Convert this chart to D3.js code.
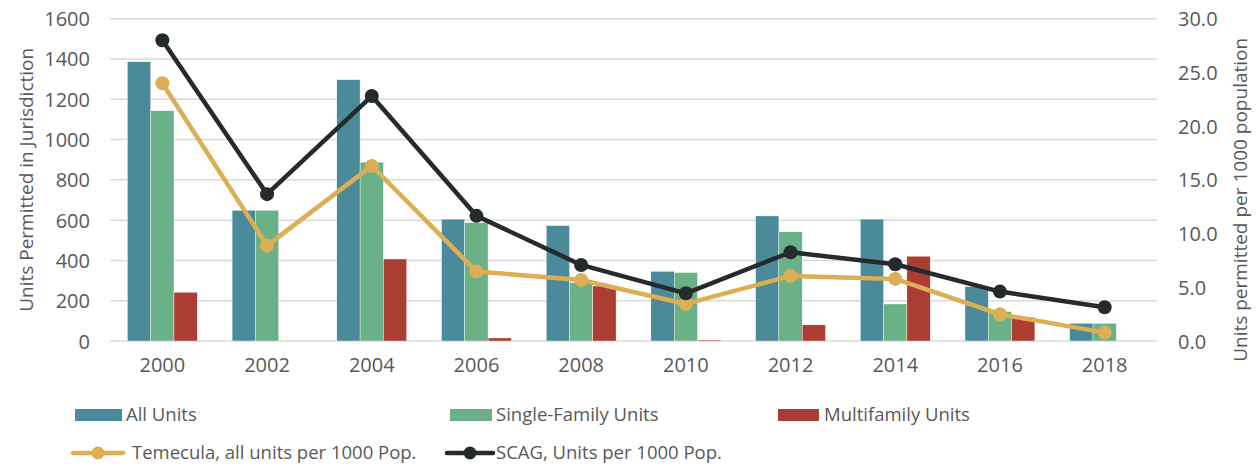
<!DOCTYPE html>
<html><head><meta charset="utf-8">
<script src="https://cdn.jsdelivr.net/npm/d3@7"></script>
<style>body{margin:0;background:#fff;} text{font-family:"Open Sans","Liberation Sans",Arial,sans-serif;fill:#595959;}</style>
</head><body><svg id="c" width="1260" height="467"></svg>
<script>
const years = ["2000","2002","2004","2006","2008","2010","2012","2014","2016","2018"];
const allUnits = [1386, 649, 1297, 605, 573, 346, 621, 605, 270, 88];
const singleFamily = [1143, 649, 888, 588, 290, 340, 542, 184, 146, 88];
const multifamily = [242, 0, 407, 15, 273, 5, 80, 421, 118, 0];
const temecula = [24.0, 8.88, 16.3, 6.46, 5.68, 3.45, 6.06, 5.78, 2.49, 0.78];
const scag = [28.0, 13.67, 22.8, 11.65, 7.08, 4.44, 8.26, 7.14, 4.6, 3.14];
const leftTicks = [0,200,400,600,800,1000,1200,1400,1600];
const rightTicks = [0,5,10,15,20,25,30];

const svg = d3.select("#c");
const L = 110, R = 1157, T = 18.7, B = 341;
const x = d3.scaleBand().domain(years).range([L, R]).paddingInner(0).paddingOuter(0);
const yL = d3.scaleLinear().domain([0,1600]).range([B, T]);
const yR = d3.scaleLinear().domain([0,30]).range([B, T]);
const colors = {all:"#4a8a9a", sf:"#6bb187", mf:"#ab3d32", tem:"#dcae55", scag:"#252a2d"};
const FS = "20px";

// grid
svg.append("g").selectAll("line").data(leftTicks).join("line")
  .attr("x1", L).attr("x2", R).attr("y1", d=>yL(d)).attr("y2", d=>yL(d))
  .attr("stroke", "#d9d9d9").attr("stroke-width", 1.5);

// left axis
const gl = svg.append("g").attr("transform", `translate(${L-20},0)`)
  .call(d3.axisLeft(yL).tickValues(leftTicks).tickFormat(d3.format("d")).tickSize(0).tickPadding(0));
gl.select(".domain").remove();
gl.selectAll("text").style("font-size",FS).attr("fill","#595959").attr("dy","0.35em");

// right axis
const gr = svg.append("g").attr("transform", `translate(${R+21},0)`)
  .call(d3.axisRight(yR).tickValues(rightTicks).tickFormat(d3.format(".1f")).tickSize(0).tickPadding(0));
gr.select(".domain").remove();
gr.selectAll("text").style("font-size",FS).attr("fill","#595959").attr("dy","0.35em");

// bottom axis
const gb = svg.append("g").attr("transform", `translate(0,${B})`)
  .call(d3.axisBottom(x).tickSize(0).tickPadding(17));
gb.select(".domain").remove();
gb.selectAll("text").style("font-size",FS).attr("fill","#595959");

// axis titles
svg.append("text").attr("transform", `translate(26,${(T+B)/2}) rotate(-90)`)
  .attr("text-anchor","middle").attr("dy","0.35em").style("font-size","19px").text("Units Permitted in Jurisdiction");
svg.append("text").attr("transform", `translate(1240,${(T+B)/2 + 20}) rotate(-90)`)
  .attr("text-anchor","middle").attr("dy","0.35em").style("font-size","19px").text("Units permitted per 1000 population");

// bars
const bw = 23.3;
const series = [{k:"all", v:allUnits},{k:"sf", v:singleFamily},{k:"mf", v:multifamily}];
series.forEach((s, i) => {
  svg.append("g").selectAll("rect").data(years).join("rect")
    .attr("x", (d) => x(d) + x.bandwidth()/2 - 1.5*bw + i*bw)
    .attr("width", bw)
    .attr("y", (d, j) => yL(s.v[j]))
    .attr("height", (d, j) => B - yL(s.v[j]))
    .attr("fill", colors[s.k]).attr("stroke","#ffffff").attr("stroke-width",0.4);
});

// lines
function drawLine(vals, col) {
  const line = d3.line().x((d,i)=>x(years[i]) + x.bandwidth()/2).y(d=>yR(d));
  svg.append("path").datum(vals).attr("d", line).attr("fill","none")
    .attr("stroke", col).attr("stroke-width", 4.5).attr("stroke-linejoin","round");
  svg.append("g").selectAll("circle").data(vals).join("circle")
    .attr("cx",(d,i)=>x(years[i]) + x.bandwidth()/2).attr("cy", d=>yR(d)).attr("r", 7)
    .attr("fill", col);
}
drawLine(temecula, colors.tem);
drawLine(scag, colors.scag);

// legend
const lg = svg.append("g");
const boxes = [
  {x:75, w:47, c:colors.all, t:"All Units", tx:126},
  {x:450, w:42, c:colors.sf, t:"Single-Family Units", tx:496},
  {x:778, w:41, c:colors.mf, t:"Multifamily Units", tx:824}
];
boxes.forEach(b => {
  lg.append("rect").attr("x", b.x).attr("y", 409).attr("width", b.w).attr("height", 12).attr("fill", b.c);
  lg.append("text").attr("x", b.tx).attr("y", 415).attr("dy","0.35em").style("font-size","18.5px").text(b.t);
});
const lines = [
  {x1:73, x2:123, c:colors.tem, t:"Temecula, all units per 1000 Pop.", tx:132},
  {x1:447, x2:493, c:colors.scag, t:"SCAG, Units per 1000 Pop.", tx:496}
];
lines.forEach(l => {
  lg.append("line").attr("x1", l.x1).attr("x2", l.x2).attr("y1", 453).attr("y2", 453)
    .attr("stroke", l.c).attr("stroke-width", 4.5).attr("stroke-linecap","round");
  lg.append("circle").attr("cx", (l.x1+l.x2)/2).attr("cy", 453).attr("r", 6.5).attr("fill", l.c);
  lg.append("text").attr("x", l.tx).attr("y", 453).attr("dy","0.35em").style("font-size","18.5px").text(l.t);
});
</script></body></html>
